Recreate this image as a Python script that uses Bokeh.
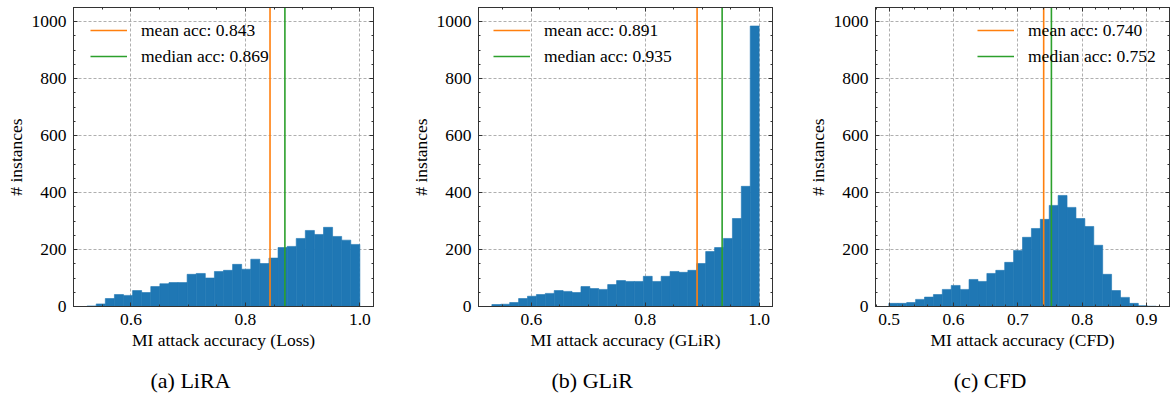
import numpy as np
from bokeh.plotting import figure
from bokeh.layouts import row
from bokeh.models import (Range1d, LinearAxis, SingleIntervalTicker, FixedTicker,
                          NumeralTickFormatter, CustomJSTickFormatter, Legend, LegendItem)
from bokeh.embed import file_html
from bokeh.resources import INLINE

# ---------------- data ----------------
lira_counts = [2, 9, 28, 42, 39, 56, 49, 70, 80, 84, 84, 113, 116, 100, 123,
               127, 148, 131, 166, 151, 170, 207, 211, 239, 267, 253, 278, 246, 233, 218]
lira_range = (0.5234, 1.0)
lira_mean, lira_median = 0.843, 0.869

glir_counts = [7, 8, 14, 28, 36, 42, 46, 56, 53, 49, 70, 63, 60, 77, 91,
               88, 88, 106, 88, 106, 123, 120, 127, 151, 193, 207, 239, 309, 422, 985]
glir_range = (0.5305, 1.0)
glir_mean, glir_median = 0.891, 0.935

cfd_counts = [11, 11, 14, 25, 33, 42, 60, 74, 60, 95, 88, 116, 127, 155, 197,
              243, 274, 306, 355, 390, 348, 309, 281, 215, 113, 56, 32, 11, 3, 1]
cfd_range = (0.4995, 0.9147)
cfd_mean, cfd_median = 0.740, 0.752

x_labels = ["MI attack accuracy (Loss)", "MI attack accuracy (GLiR)", "MI attack accuracy (CFD)"]
captions = ["(a) LiRA", "(b) GLiR", "(c) CFD"]
y_label = "# instances"
y_max = 1050

BLUE = "#1f77b4"
ORANGE = "#ff7f0e"
GREEN = "#2ca02c"
FONT = "Liberation Serif"
FS = "17.5px"
AX = "#333333"
FRAME_W = 300


def tick_style(ax):
    ax.major_tick_in = 4
    ax.major_tick_out = 0
    ax.minor_tick_in = 2
    ax.minor_tick_out = 0
    ax.axis_line_color = AX
    ax.major_tick_line_color = AX
    ax.minor_tick_line_color = AX


def label_style(ax):
    ax.major_label_text_font = FONT
    ax.major_label_text_font_size = FS
    ax.major_label_text_color = "black"
    ax.axis_label_text_font = FONT
    ax.axis_label_text_font_size = FS
    ax.axis_label_text_font_style = "normal"
    ax.axis_label_text_color = "black"


def mirror_axes(p, side, majors, minors):
    # tick marks only (no labels) on the opposite side of the frame
    for ticks, length in ((majors, 4), (minors, 2)):
        ax = LinearAxis(ticker=FixedTicker(ticks=[], minor_ticks=list(ticks)))
        ax.major_label_standoff = 0
        ax.minor_tick_in = length
        ax.minor_tick_out = 0
        ax.major_tick_in = 0
        ax.major_tick_out = 0
        ax.axis_line_color = AX
        ax.minor_tick_line_color = AX
        p.add_layout(ax, side)


def panel(counts, rng, mean, median, xlabel, caption, x_int, x_minor,
          b_left, b_right, legend_x, cap_px):
    lo, hi = rng
    pad = 0.05 * (hi - lo)
    x0, x1 = lo - pad, hi + pad
    p = figure(width=b_left + FRAME_W + b_right, height=398,
               output_backend="svg", toolbar_location=None,
               x_range=Range1d(x0, x1), y_range=Range1d(0, y_max),
               min_border_left=b_left, min_border_right=b_right,
               min_border_top=7, min_border_bottom=92)
    p.outline_line_color = AX
    p.background_fill_color = "white"
    p.border_fill_color = "white"

    edges = np.linspace(lo, hi, len(counts) + 1)
    p.quad(left=edges[:-1], right=edges[1:], bottom=0, top=counts,
           fill_color=BLUE, line_color=BLUE, line_width=0.6)

    xt = SingleIntervalTicker(interval=x_int, num_minor_ticks=x_minor)
    yt = SingleIntervalTicker(interval=200, num_minor_ticks=4)

    p.xaxis.ticker = xt
    p.xaxis.formatter = NumeralTickFormatter(format="0.0")
    p.xaxis.axis_label = xlabel
    p.xaxis.major_label_standoff = 7
    p.xaxis.axis_label_standoff = 2
    p.yaxis.ticker = yt
    p.yaxis.axis_label = y_label
    p.yaxis.major_label_standoff = 7
    p.yaxis.axis_label_standoff = 3
    for ax in p.xaxis + p.yaxis:
        tick_style(ax)
        label_style(ax)

    x_major = np.round(np.arange(0.0, 1.2001, x_int), 4)
    x_minors = np.round(np.arange(0.0, 1.2001, x_int / x_minor), 4)
    y_major = np.arange(0, 1201, 200)
    y_minors = np.arange(0, 1201, 50)
    mirror_axes(p, "above", x_major, x_minors)
    mirror_axes(p, "right", y_major, y_minors)

    # sub-figure caption, drawn as a single label of an extra bottom axis
    cap_x = x0 + cap_px / FRAME_W * (x1 - x0)
    cap_ax = LinearAxis(ticker=FixedTicker(ticks=[cap_x], minor_ticks=[]),
                        formatter=CustomJSTickFormatter(args=dict(txt=caption), code="return txt"))
    cap_ax.axis_line_color = None
    cap_ax.major_tick_line_color = None
    cap_ax.major_tick_in = 0
    cap_ax.major_tick_out = 0
    cap_ax.minor_tick_in = 0
    cap_ax.minor_tick_out = 0
    cap_ax.major_label_standoff = 15
    cap_ax.major_label_text_font = FONT
    cap_ax.major_label_text_font_size = "22px"
    cap_ax.major_label_text_color = "black"
    p.add_layout(cap_ax, "below")

    for g in (p.xgrid, p.ygrid):
        g.grid_line_dash = "3 2"
        g.grid_line_color = "#9a9a9a"
        g.grid_line_width = 0.8
    p.xgrid.ticker = xt
    p.ygrid.ticker = yt

    r_mean = p.line(x=[mean, mean], y=[0, y_max], line_color=ORANGE, line_width=1.6)
    r_med = p.line(x=[median, median], y=[0, y_max], line_color=GREEN, line_width=1.6)
    legend = Legend(items=[LegendItem(label=f"mean acc: {mean:.3f}", renderers=[r_mean]),
                           LegendItem(label=f"median acc: {median:.3f}", renderers=[r_med])],
                    location=(legend_x, 239))
    legend.background_fill_alpha = 0
    legend.border_line_alpha = 0
    legend.padding = 0
    legend.margin = 0
    legend.spacing = 4
    legend.glyph_width = 37
    legend.glyph_height = 22
    legend.label_height = 22
    legend.label_standoff = 14
    legend.label_text_font = FONT
    legend.label_text_font_size = FS
    legend.label_text_color = "black"
    p.add_layout(legend)
    return p


p1 = panel(lira_counts, lira_range, lira_mean, lira_median, x_labels[0], captions[0],
           0.2, 4, 73, 34, 17, 117)
p2 = panel(glir_counts, glir_range, glir_mean, glir_median, x_labels[1], captions[1],
           0.2, 4, 65, 32, 15, 116)
p3 = panel(cfd_counts, cfd_range, cfd_mean, cfd_median, x_labels[2], captions[2],
           0.1, 5, 65, 1, 102, 117)

layout = row(p1, p2, p3)
open("out.html", "w").write(file_html(layout, INLINE))
